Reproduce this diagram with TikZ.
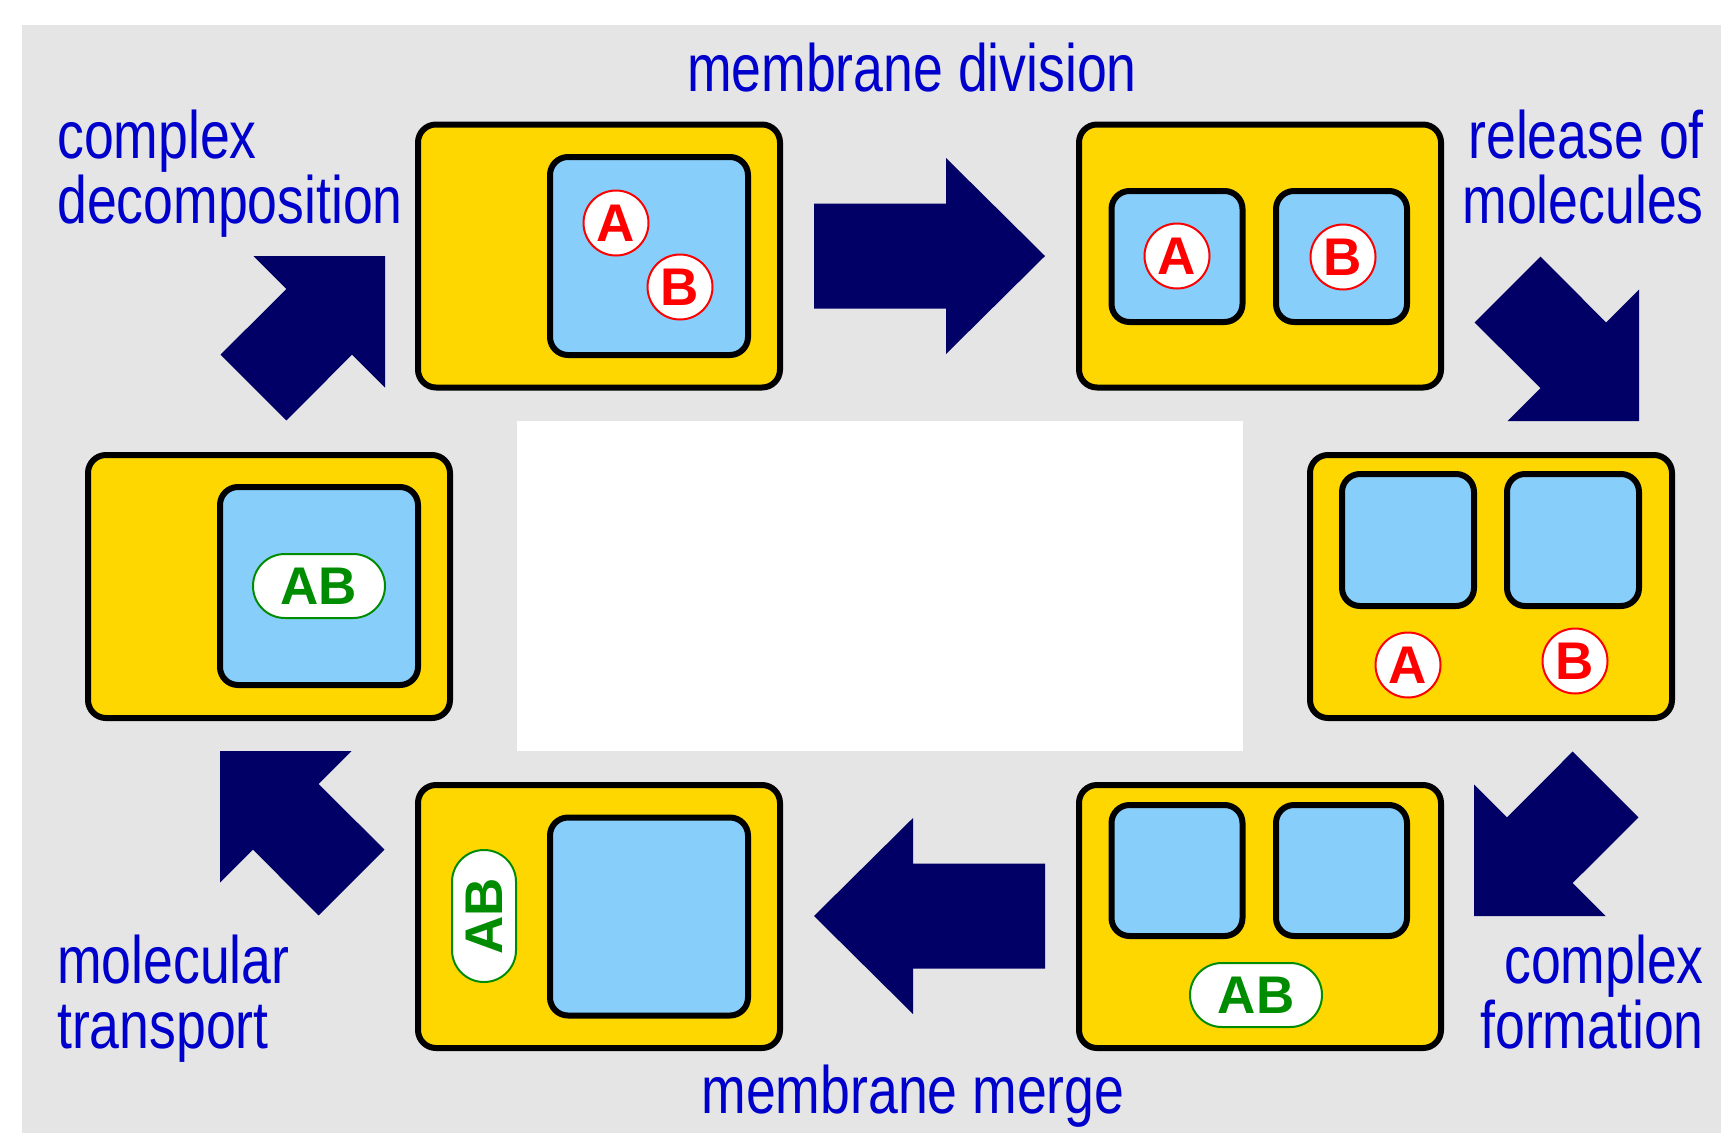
\documentclass[tikz,border=0pt]{standalone}
\usepackage{fontspec}
\setmainfont{Liberation Sans}
\newfontfamily\capfont{Liberation Sans}[FakeStretch=0.8]
\usetikzlibrary{calc}

\definecolor{panelgrey}{HTML}{E5E5E5}
\definecolor{cellgold}{HTML}{FFD700}
\definecolor{vesicleblue}{HTML}{87CEFA}
\definecolor{arrownavy}{HTML}{000066}
\definecolor{capblue}{HTML}{0000CC}
\definecolor{molred}{HTML}{FF0000}
\definecolor{cplxgreen}{HTML}{008C00}

\tikzset{
  cell/.style={draw=black, line width=6pt, fill=cellgold, rounded corners=18pt,
    minimum width=362pt, minimum height=263pt, inner sep=0pt},
  vesicle/.style={draw=black, line width=6pt, fill=vesicleblue, rounded corners=18pt,
    inner sep=0pt},
  bigves/.style={vesicle, minimum width=198pt, minimum height=198pt},
  smallves/.style={vesicle, minimum width=131pt, minimum height=131pt},
  mol/.style={circle, draw=molred, line width=2pt, fill=white, minimum size=65pt,
    inner sep=0pt, text=molred, font=\fontsize{53}{53}\selectfont\bfseries},
  complexpill/.style={draw=cplxgreen, line width=2pt, fill=white, rounded corners=31.9pt,
    minimum width=132pt, minimum height=64pt, inner sep=0pt, text=cplxgreen,
    font=\fontsize{53}{53}\selectfont\bfseries},
  caption/.style={text=capblue, font=\capfont\fontsize{67}{65}\selectfont, inner sep=0pt},
  blockarrow/.style={fill=arrownavy},
}

\begin{document}
\begin{tikzpicture}[x=1pt, y=-1pt]
  % canvas
  \fill[white] (0,0) rectangle (1721,1133);
  \useasboundingbox (0,0) rectangle (1721,1133);
  \fill[panelgrey] (22,25) rectangle (1721,1133);
  \fill[white] (517,421) rectangle (1243,751);

  % stage 1: complex inside one vesicle
  \node[cell] (c1) at (599,256) {};
  \node[bigves] (v1) at (649,256) {};
  \node[mol] (a1) at (616,223) {A};
  \node[mol] (b1) at (680,287) {B};

  % stage 2: divided vesicles
  \node[cell] (c2) at (1260,256) {};
  \node[smallves] (v2a) at (1177,256.5) {};
  \node[smallves] (v2b) at (1341.5,256.5) {};
  \node[mol] (a2) at (1177,256) {A};
  \node[mol] (b2) at (1343,257) {B};

  % stage 3: molecules released
  \node[cell] (c3) at (1491,586.5) {};
  \node[smallves, minimum width=132pt, minimum height=132pt] (v3a) at (1408,540) {};
  \node[smallves, minimum width=132pt, minimum height=132pt] (v3b) at (1573,540) {};
  \node[mol] (a3) at (1408,665) {A};
  \node[mol] (b3) at (1575,661) {B};

  % stage 4: complex formed
  \node[cell] (c4) at (1260,916.5) {};
  \node[smallves] (v4a) at (1177,870.5) {};
  \node[smallves] (v4b) at (1341.5,870.5) {};
  \node[complexpill] (ab4) at (1256,995) {AB};

  % stage 5: merged vesicle
  \node[cell] (c5) at (599,916.5) {};
  \node[bigves] (v5) at (649,916.5) {};
  \node[complexpill, rotate=90] (ab5) at (484,916) {AB};

  % stage 6: complex transported into the vesicle
  \node[cell] (c6) at (269,586.5) {};
  \node[bigves] (v6) at (319,586) {};
  \node[complexpill] (ab6) at (319,586) {AB};

  % block arrows
  \fill[blockarrow] (814,203.5) -- (946,203.5) -- (946,158) -- (1045,256)
    -- (946,354) -- (946,308.5) -- (814,308.5) -- cycle;
  \fill[blockarrow] (1045,863.5) -- (913,863.5) -- (913,818) -- (814,916)
    -- (913,1014) -- (913,968.5) -- (1045,968.5) -- cycle;
  % up-right
  \fill[blockarrow] (385,256) -- (253.5,256) -- (286.4,288.9) -- (220.6,354.6)
    -- (286.4,420.4) -- (352.1,354.6) -- (385,387.5) -- cycle;
  % down-right
  \fill[blockarrow] (1639,421) -- (1507.5,421) -- (1540.4,388.1) -- (1474.6,322.4)
    -- (1540.4,256.6) -- (1606.1,322.4) -- (1639,289.5) -- cycle;
  % down-left
  \fill[blockarrow] (1474,916) -- (1605.5,916) -- (1572.6,883.1) -- (1638.4,817.4)
    -- (1572.6,751.6) -- (1506.9,817.4) -- (1474,784.5) -- cycle;
  % up-left
  \fill[blockarrow] (220,751) -- (351.5,751) -- (318.6,783.9) -- (384.4,849.6)
    -- (318.6,915.4) -- (252.9,849.6) -- (220,882.5) -- cycle;

  % step captions (base anchor of a two-line caption sits on its last line)
  \node[caption, anchor=base] (division) at (912,91) {membrane division};
  \node[caption, anchor=base west, align=left] (decomp) at (57,223) {complex\\decomposition};
  \node[caption, anchor=base east, align=right] (release) at (1704,223) {release of\\molecules};
  \node[caption, anchor=base east, align=right] (formation) at (1704,1048) {complex\\formation};
  \node[caption, anchor=base west, align=left] (transport) at (57,1048) {molecular\\transport};
  \node[caption, anchor=base] (merge) at (913,1113) {membrane merge};
\end{tikzpicture}
\end{document}
